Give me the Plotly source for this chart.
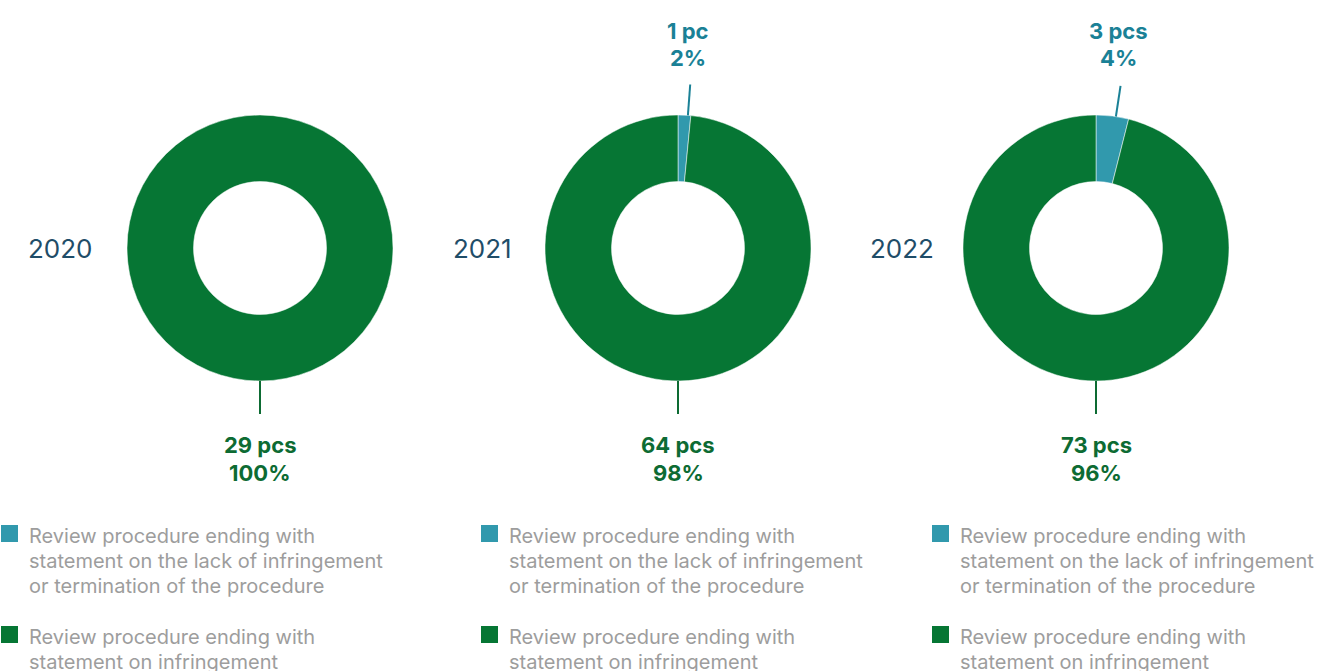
import math
import plotly.graph_objects as go

W, H = 1319, 671
OFF = 0

years = ["2020", "2021", "2022"]
categories = [
    "Review procedure ending with<br>statement on the lack of infringement<br>or termination of the procedure",
    "Review procedure ending with<br>statement on infringement",
]
no_infringement = [0, 1, 3]
infringement = [29, 64, 73]
small_labels = ["", "1 pc<br>2%", "3 pcs<br>4%"]
big_labels = ["29 pcs<br>100%", "64 pcs<br>98%", "73 pcs<br>96%"]

TEAL = "#3199ad"
GREEN = "#067634"
TEAL_TXT = "#1a8196"
GREEN_TXT = "#0d6b33"
YEAR_TXT = "#1f4d68"
LEG_TXT = "#9d9d9d"
FONT = "Inter, Roboto, sans-serif"

centers_x = [260, 678, 1096]
year_x = [60, 482, 902]
cy = 248
R = 133
legend_x = [1, 481, 932]

def px(x):
    return (x - OFF) / W

def py(y):
    return 1 - (y - OFF) / H

fig = go.Figure()
shapes = []
annotations = []

def add_lines(text, xc, ytop, spacing, font, xanchor="center"):
    for k, line in enumerate(text.split("<br>")):
        annotations.append(dict(x=px(xc), y=py(ytop + k * spacing), xref="paper", yref="paper",
                                text=line, showarrow=False, xanchor=xanchor, yanchor="middle",
                                align="left", font=font))

for i, yr in enumerate(years):
    cx = centers_x[i]
    fig.add_trace(go.Pie(
        labels=[c.replace("<br>", " ") for c in categories],
        values=[no_infringement[i], infringement[i]],
        hole=0.5,
        sort=False,
        direction="clockwise",
        rotation=0,
        textinfo="none",
        hoverinfo="label+value+percent",
        marker=dict(colors=[TEAL, GREEN], line=dict(color="white", width=0.5)),
        domain=dict(x=[px(cx - R), px(cx + R)], y=[py(cy + R), py(cy - R)]),
        showlegend=False,
        name=yr,
    ))
    # year label
    annotations.append(dict(x=px(year_x[i]), y=py(cy), xref="paper", yref="paper",
                            text=yr, showarrow=False, xanchor="center", yanchor="middle",
                            font=dict(family=FONT, size=26, color=YEAR_TXT)))
    total = no_infringement[i] + infringement[i]
    # big slice: leader at bottom
    shapes.append(dict(type="line", xref="paper", yref="paper",
                       x0=px(cx), x1=px(cx), y0=py(cy + R), y1=py(cy + R + 33),
                       line=dict(color=GREEN_TXT, width=2)))
    add_lines("<b>" + big_labels[i].replace("<br>", "</b><br><b>") + "</b>", cx, 445, 28,
              dict(family=FONT, size=22, color=GREEN_TXT))
    if no_infringement[i] > 0:
        ang = math.radians(no_infringement[i] / total * 360 / 2 + 1.5)
        x0 = cx + R * math.sin(ang)
        y0 = cy - R * math.cos(ang)
        x1 = cx + (R + 31) * math.sin(ang)
        y1 = cy - (R + 31) * math.cos(ang)
        shapes.append(dict(type="line", xref="paper", yref="paper",
                           x0=px(x0), x1=px(x1), y0=py(y0), y1=py(y1),
                           line=dict(color=TEAL_TXT, width=2)))
        add_lines("<b>" + small_labels[i].replace("<br>", "</b><br><b>") + "</b>", x1 - 2, 31, 27,
                  dict(family=FONT, size=22, color=TEAL_TXT))
    # legend
    lx = legend_x[i]
    for j, (cat, col, ty) in enumerate(zip(categories, [TEAL, GREEN], [524, 625])):
        shapes.append(dict(type="rect", xref="paper", yref="paper",
                           x0=px(lx), x1=px(lx + 17), y0=py(ty + 18), y1=py(ty + 1),
                           fillcolor=col, line=dict(width=0)))
        add_lines(cat, lx + 26, ty + 12, 25,
                  dict(family=FONT, size=20, color=LEG_TXT), xanchor="left")

fig.update_layout(
    width=W, height=H,
    margin=dict(l=0, r=0, t=0, b=0),
    paper_bgcolor="white",
    plot_bgcolor="white",
    shapes=shapes,
    annotations=annotations,
)

fig.write_html("out.html",
               config={"displayModeBar": False},
               post_script="document.body.style.margin='0';document.body.style.overflow='hidden';")
